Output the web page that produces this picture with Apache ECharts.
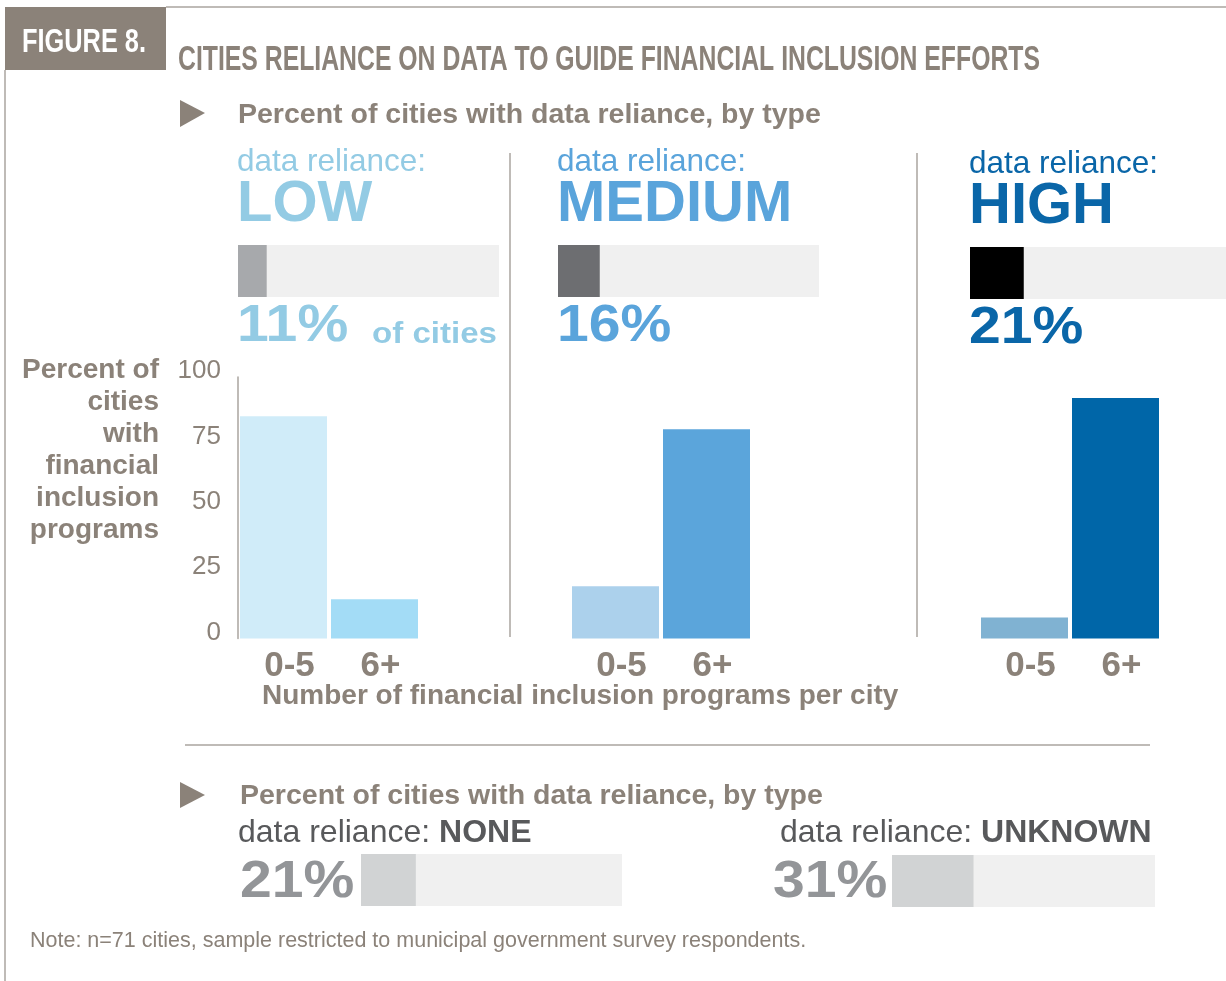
<!DOCTYPE html>
<html>
<head>
<meta charset="utf-8">
<title>Figure 8</title>
<script src="https://cdn.jsdelivr.net/npm/echarts@6/dist/echarts.min.js"></script>
<style>
    html, body { margin: 0; padding: 0; background: #fff; }
    .chart_box { width: 1226px; height: 981px; }
</style>
</head>
<body>
<div class="chart_box"></div>
<script>
// 数据
const relianceTypes = ['LOW', 'MEDIUM', 'HIGH'];
const programBins = ['0-5', '6+'];
const lowValues = [85, 15];
const mediumValues = [20, 80];
const highValues = [8, 92];
const yTicks = [0, 25, 50, 75, 100];
const citiesShare = [11, 16, 21];
const otherTypes = ['NONE', 'UNKNOWN'];
const otherShare = [21, 31];

window.addEventListener('load', function() {
    let myChart = echarts.init(document.querySelector('.chart_box'));

    let taupe = '#8b8279';
    let font = 'Liberation Sans';
    let headColors = ['#93cbe4', '#5aa4db', '#0a66a8'];
    let barColors = [['#d0ecf9', '#a3dcf6'], ['#acd1ec', '#5ba5db'], ['#80b2d2', '#0066a8']];
    let fillColors = ['#a7a9ac', '#6d6e71', '#000000'];
    let headX = [237, 557, 969];
    let chartLeft = [238, 570, 979];
    let trackPos = [[238, 245], [558, 245], [970, 247]];
    let otherTrack = [[361, 854], [892, 855]];
    let otherX = [238, 780];
    let otherPctX = [240, 773];
    let seriesValues = [lowValues, mediumValues, highValues];

    // 压缩字体宽度
    let ctx = document.createElement('canvas').getContext('2d');
    function fitScale(text, fontStr, target) {
        ctx.font = fontStr;
        return target / ctx.measureText(text).width;
    }

    let grids = [], xAxes = [], yAxes = [], series = [];

    // 柱状图
    relianceTypes.forEach(function(type, i) {
        grids.push({ left: chartLeft[i], top: 377, width: 182, height: 261.5 });
        xAxes.push({
            gridIndex: i,
            type: 'category',
            data: programBins,
            axisLine: { show: false },
            axisTick: { show: false },
            axisLabel: {
                margin: 10,
                padding: [0, 0, 0, 12],
                fontFamily: font,
                fontWeight: 'bold',
                fontSize: 35,
                color: taupe
            }
        });
        yAxes.push({
            gridIndex: i,
            type: 'value',
            min: yTicks[0],
            max: yTicks[yTicks.length - 1],
            interval: yTicks[1] - yTicks[0],
            show: i === 0,
            axisLine: { show: true, lineStyle: { color: '#aaa59f', width: 1.5 } },
            axisTick: { show: false },
            splitLine: { show: false },
            axisLabel: {
                margin: 17,
                verticalAlign: 'bottom',
                lineHeight: 12,
                fontFamily: font,
                fontSize: 26,
                color: taupe
            }
        });
        series.push({
            name: type,
            type: 'bar',
            xAxisIndex: i,
            yAxisIndex: i,
            barWidth: 87,
            data: seriesValues[i].map(function(v, k) {
                return { value: v, itemStyle: { color: barColors[i][k] } };
            })
        });
    });

    // 比例条
    let shares = citiesShare.concat(otherShare);
    let tracks = trackPos.concat(otherTrack);
    let trackColors = fillColors.concat(['#d1d3d4', '#d1d3d4']);
    let trackNames = relianceTypes.concat(otherTypes);
    shares.forEach(function(v, j) {
        let g = grids.length;
        grids.push({ left: tracks[j][0], top: tracks[j][1], width: j === 4 ? 263 : 261, height: 52 });
        xAxes.push({ gridIndex: g, type: 'value', min: 0, max: 100, show: false });
        yAxes.push({ gridIndex: g, type: 'category', data: [trackNames[j]], show: false });
        series.push({
            name: trackNames[j] + ' share',
            type: 'bar',
            xAxisIndex: g,
            yAxisIndex: g,
            barWidth: 52,
            showBackground: true,
            backgroundStyle: { color: '#f0f0f0' },
            itemStyle: { color: trackColors[j] },
            data: [v]
        });
    });

    function txt(x, y, text, size, color, opt) {
        opt = opt || {};
        return {
            type: 'text',
            x: x,
            y: y,
            scaleX: opt.scaleX || 1,
            silent: true,
            style: {
                x: 0,
                y: 0,
                text: text,
                fill: color,
                fontFamily: font,
                fontWeight: opt.weight || 'normal',
                fontSize: size,
                lineHeight: opt.lineHeight,
                align: opt.align || 'left',
                textAlign: opt.align || 'left',
                verticalAlign: 'middle',
                textVerticalAlign: 'middle',
                rich: opt.rich
            }
        };
    }

    let figText = 'FIGURE 8.';
    let titleText = 'CITIES RELIANCE ON DATA TO GUIDE FINANCIAL INCLUSION EFFORTS';
    let lineStyle = { stroke: '#aaa59f', lineWidth: 1.5 };
    let elements = [
        { type: 'rect', shape: { x: 5, y: 7, width: 161, height: 63 }, style: { fill: '#8b8279' } },
        { type: 'line', shape: { x1: 166, y1: 7, x2: 1226, y2: 7 }, style: lineStyle },
        { type: 'line', shape: { x1: 5, y1: 70, x2: 5, y2: 981 }, style: lineStyle },
        txt(22, 43, figText, 34, '#ffffff', { weight: 'bold', scaleX: fitScale(figText, 'bold 34px "Liberation Sans"', 124) }),
        txt(178, 60, titleText, 35, taupe, { weight: 'bold', scaleX: fitScale(titleText, 'bold 35px "Liberation Sans"', 862) }),
        { type: 'polygon', shape: { points: [[180, 100], [205, 113], [180, 127]] }, style: { fill: taupe } },
        txt(238, 115, 'Percent of cities with data reliance, by type', 28.5, taupe, { weight: 'bold' }),
        { type: 'line', shape: { x1: 510, y1: 153, x2: 510, y2: 637 }, style: lineStyle },
        { type: 'line', shape: { x1: 917, y1: 153, x2: 917, y2: 637 }, style: lineStyle },
        txt(159, 450, 'Percent of\ncities\nwith\nfinancial\ninclusion\nprograms', 28, taupe, { weight: 'bold', align: 'right', lineHeight: 32 }),
        txt(262, 696, 'Number of financial inclusion programs per city', 28, taupe, { weight: 'bold' }),
        { type: 'line', shape: { x1: 185, y1: 745, x2: 1150, y2: 745 }, style: lineStyle },
        { type: 'polygon', shape: { points: [[180, 782], [205, 795], [180, 808]] }, style: { fill: taupe } },
        txt(240, 796, 'Percent of cities with data reliance, by type', 28.5, taupe, { weight: 'bold' }),
        txt(30, 941, 'Note: n=71 cities, sample restricted to municipal government survey respondents.', 21.5, taupe),
        txt(372, 335, 'of cities', 29, headColors[0], { weight: 'bold', scaleX: 1.14 })
    ];

    relianceTypes.forEach(function(type, i) {
        let dy = i === 2 ? 2 : 0;
        elements.push(txt(headX[i], 162 + dy, 'data reliance:', 31.5, headColors[i]));
        elements.push(txt(headX[i], 205 + dy, type, 58, headColors[i], { weight: 'bold' }));
        elements.push(txt(headX[i], 327 + dy, citiesShare[i] + '%', 51, headColors[i], { weight: 'bold', scaleX: 1.12 }));
    });

    otherTypes.forEach(function(type, j) {
        elements.push(txt(otherX[j], 833, '{a|data reliance: }{b|' + type + '}', 32, '#58595b', {
            rich: {
                a: { fontFamily: font, fontSize: 32, color: '#58595b' },
                b: { fontFamily: font, fontSize: 32, fontWeight: 'bold', color: '#4d4d4f' }
            }
        }));
        elements.push(txt(otherPctX[j], 883, otherShare[j] + '%', 51, '#939598', { weight: 'bold', scaleX: 1.12 }));
    });

    let option = {
        animation: false,
        grid: grids,
        xAxis: xAxes,
        yAxis: yAxes,
        series: series,
        graphic: { elements: elements }
    };
    myChart.setOption(option);
});
</script>
</body>
</html>
